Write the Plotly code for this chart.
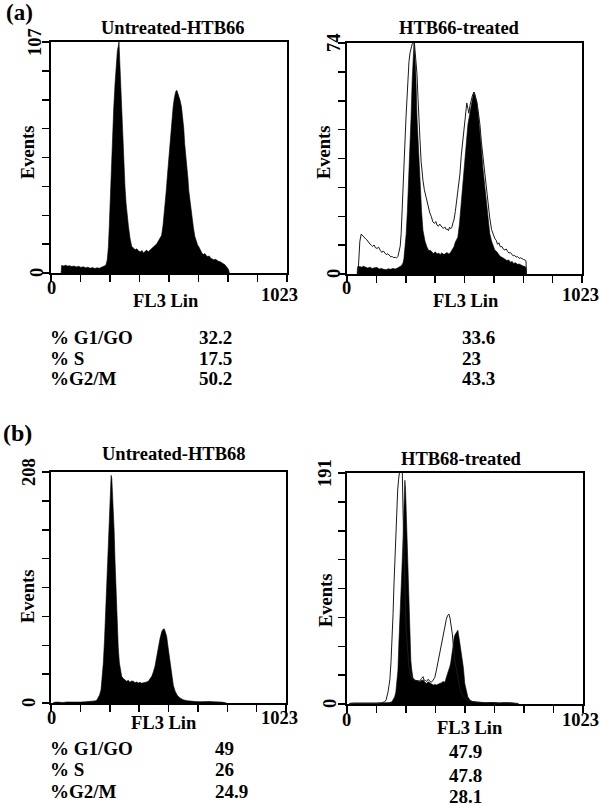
import plotly.graph_objects as go

# ---------------- data ----------------
PANEL_TITLES = ["Untreated-HTB66", "HTB66-treated", "Untreated-HTB68", "HTB68-treated"]
Y_MAX = [107, 74, 208, 191]
X_LABELS = ["0", "1023"]
X_TITLE = "FL3 Lin"
Y_TITLE = "Events"
ROW_LABELS = ["% G1/GO", "% S", "%G2/M"]
VALUES_A_UNT = ["32.2", "17.5", "50.2"]
VALUES_A_TRT = ["33.6", "23", "43.3"]
VALUES_B_UNT = ["49", "26", "24.9"]
VALUES_B_TRT = ["47.9", "47.8", "28.1"]

# (a) untreated HTB66 – filled histogram (channel, events)
A_UNT_CH = [44, 46, 55, 64, 72, 80, 90, 100, 110, 120, 130, 140, 150, 160, 170, 180, 190, 200, 210, 220, 230, 238,
            244, 249, 253, 256, 261, 266, 272, 278, 283, 288, 292, 295, 298, 302, 306, 311, 316, 321, 326, 331, 336,
            343, 350, 358, 365, 372, 380, 388, 395, 401, 408, 415, 422, 430, 437, 445, 452, 459, 466, 473, 480, 486,
            491, 495, 500, 505, 509, 514, 519, 524, 530, 535, 541, 546, 550, 555, 560, 566, 571, 576, 580, 585, 589,
            594, 598, 603, 608, 613, 618, 624, 630, 636, 642, 648, 655, 661, 668, 674, 680, 687, 693, 700, 706, 713,
            720, 727, 734, 741, 748, 755, 762, 768, 772, 774]
A_UNT_EV = [0, 3.5, 3.3, 3.6, 3.2, 3.4, 3.0, 3.2, 2.8, 3.1, 2.6, 2.9, 2.4, 2.7, 2.2, 2.5, 2.1, 2.4, 2.2, 2.8, 3.0, 3.6,
            6, 12, 22, 31, 46, 62, 76, 88, 96, 103, 105, 107, 99, 88, 75, 60, 49, 40, 32, 26, 21.6,
            16, 12.4, 11.5, 10.8, 11.2, 10.2, 9.8, 10.4, 9.3, 9.9, 10.6, 9.8, 10.5, 11.4, 12.2, 12.8, 13.5, 14.8, 16.2,
            17.5, 22, 27, 31, 38, 45, 50, 59, 66, 71, 77, 81, 84, 84.6, 83.5, 82, 80, 77, 72.5, 67, 60, 55, 50,
            44, 38, 33, 28, 24, 21, 17, 14.5, 13, 12, 10.5, 9.2, 8.6, 9.0, 8.0, 7.6, 7.9, 6.8, 6.5, 6.1, 6.4,
            5.8, 5.4, 5.2, 4.9, 4.3, 3.8, 3.0, 2.0, 1.0, 0]

# (a) HTB66 treated – filled histogram
A_TRT_CH = [44, 46, 55, 64, 72, 80, 90, 100, 110, 120, 131, 140, 150, 160, 170, 180, 190, 200, 210, 220, 230, 238,
            244, 248, 253, 258, 263, 268, 274, 279, 284, 288, 292, 296, 300, 305, 311, 318, 325, 331, 340, 348, 356,
            363, 370, 377, 385, 392, 400, 406, 413, 420, 427, 435, 442, 448, 455, 460, 466, 472, 478, 483, 490, 495,
            500, 506, 513, 520, 527, 535, 544, 549, 553, 558, 566, 572, 579, 586, 592, 600, 610, 616, 622, 630, 637,
            644, 652, 660, 668, 675, 683, 690, 697, 705, 712, 720, 726, 735, 742, 750, 756, 763, 770, 776, 780, 782]
A_TRT_EV = [0, 2.3, 2.4, 2.2, 2.5, 2.3, 1.9, 2.2, 1.8, 2.0, 2.1, 1.6, 1.8, 1.5, 1.4, 1.7, 1.5, 1.8, 1.6, 1.9, 2.2, 2.7,
            3.5, 5, 9, 13, 20, 28, 40, 50, 62, 68, 74, 70, 64, 50, 40, 30, 20, 14, 10.5, 8.7, 7.5,
            7.6, 7.0, 6.6, 7.1, 6.4, 6.7, 6.2, 6.8, 6.3, 6.4, 6.9, 6.5, 6.6, 7.4, 8.0, 8.7, 10.2, 11, 11.8, 16, 20,
            23.7, 30, 36.5, 42, 48, 52, 55, 57, 58.3, 57.5, 55, 51, 46, 40, 34, 28, 21.5, 17, 13, 10.5, 9.0,
            7.7, 7.2, 6.3, 5.6, 5.4, 5.0, 4.7, 4.3, 4.5, 3.8, 4.0, 3.4, 3.6, 3.1, 3.2, 2.9, 2.7, 2.5, 2.4, 2.0, 0]

# (a) HTB66 treated – outline histogram
A_OUT_CH = [48, 51, 56, 62, 68, 75, 82, 87, 94, 100, 106, 112, 118, 124, 131, 138, 145, 152, 158, 165, 171, 178, 185,
            191, 197, 204, 210, 216, 222, 228, 232, 236, 239, 243, 247, 252, 257, 262, 266, 270, 275, 280, 284, 288,
            292, 296, 300, 305, 309, 313, 318, 323, 327, 331, 337, 343, 348, 355, 361, 367, 374, 381, 387, 392, 398,
            404, 410, 414, 420, 426, 432, 437, 442, 447, 452, 457, 462, 466, 472, 479, 486, 492, 498, 505, 512, 518,
            522, 527, 531, 536, 540, 546, 553, 560, 566, 572, 579, 586, 593, 601, 608, 615, 622, 630, 637, 644, 650,
            656, 662, 668, 675, 682, 688, 694, 700, 706, 712, 718, 724, 730, 737, 743, 750, 756, 763, 770, 776, 780, 782]
A_OUT_EV = [0, 6, 10.5, 12.8, 12.2, 11.8, 11.2, 10.9, 10.0, 9.6, 9.2, 8.8, 9.3, 8.4, 8.2, 8.6, 7.6, 6.9, 7.4, 6.5, 6.2,
            6.5, 5.8, 5.5, 5.6, 5.2, 5.4, 5.1, 5.6, 7.5, 9, 13, 19, 25, 32, 42, 50, 57, 64, 68, 71, 72.5, 74, 76,
            76, 72, 69, 64, 57, 49, 43, 36, 32, 30, 27, 25, 23.7, 21.5, 19.5, 18.5, 16.7, 16.2, 16.8, 15.7, 15.3,
            16.0, 15.2, 15, 14.6, 15.1, 14.3, 14.4, 13.9, 15.0, 14.5, 15, 16.5, 17.3, 20, 23.7, 28, 32, 38, 43, 49, 53,
            54.8, 53, 51.5, 54, 55.7, 57, 58.3, 56.5, 55, 52, 48, 42, 37, 32, 26, 22, 18, 14.2, 12.5, 11.4, 10.8,
            9.5, 10.0, 8.7, 8.8, 7.9, 7.7, 8.0, 7.2, 6.7, 6.9, 6.3, 5.8, 6.0, 5.4, 5.6, 5.0, 5.2, 4.8, 4.6, 4.5, 4.2, 0]

# (b) untreated HTB68 – filled histogram
B_UNT_CH = [10, 12, 30, 50, 70, 90, 110, 130, 150, 165, 180, 192, 200, 206, 212, 218, 223, 228, 233, 237, 242, 246,
            250, 254, 258, 262, 265, 267, 271, 275, 279, 282, 286, 289, 293, 298, 303, 308, 315, 323, 330, 337, 344,
            351, 359, 366, 373, 381, 388, 395, 403, 410, 417, 424, 431, 439, 446, 453, 460, 468, 475, 483, 489, 494,
            499, 504, 509, 515, 520, 526, 533, 541, 550, 562, 575, 592, 610, 630, 650, 665, 679, 692, 707, 722, 737,
            751, 760, 765]
B_UNT_EV = [0, 0.6, 0.8, 0.5, 0.9, 0.7, 1.0, 0.8, 1.1, 1.3, 1.5, 1.9, 2.6, 4.5, 7.5, 12, 22, 36, 56, 78, 100, 123,
            146, 168, 188, 205, 202, 195, 176, 156, 128, 108, 86, 66, 50, 36, 29, 24, 22, 21, 19.5, 20.5, 18.6,
            19.8, 19.5, 18.2, 19.0, 18, 18.6, 17.8, 18, 18.8, 19.0, 19.5, 21.5, 24, 28, 33, 41, 51, 58, 64.6, 66.5, 66.7,
            62, 60, 52, 42, 33, 24, 16, 10.5, 7, 4.5, 3, 2.1, 1.6, 1.3, 1.2, 1.5, 1.5, 1.4, 1.1, 1.2, 0.9,
            0.6, 0.3, 0]

# (b) HTB68 treated – filled histogram
B_TRT_CH = [10, 12, 30, 50, 70, 90, 110, 130, 150, 170, 185, 195, 200, 207, 212, 217, 221, 225, 230, 234, 238, 241,
            244, 247, 251, 254, 257, 260, 263, 266, 270, 274, 277, 281, 286, 292, 299, 306, 316, 323, 330, 337, 345,
            352, 359, 366, 374, 381, 388, 395, 403, 410, 417, 425, 432, 439, 446, 450, 455, 460, 466, 471, 476, 481,
            486, 490, 495, 500, 505, 511, 517, 524, 533, 546, 560, 575, 591, 610, 630, 650, 664, 680, 695, 707, 722,
            736, 745]
B_TRT_EV = [0, 0.5, 0.7, 0.6, 0.8, 0.6, 0.9, 0.7, 0.9, 1.0, 1.2, 1.8, 3.3, 6, 10, 20, 28, 50, 70, 83, 110, 125,
            150, 166, 185, 178, 160, 140, 111, 90, 69, 48, 36, 28, 22, 20, 19.5, 18.8, 18.5, 19.4, 19.8, 18.2, 17,
            18.3, 17.6, 16.6, 15.7, 16.2, 15.7, 16.4, 16.8, 17.5, 18.6, 18, 22.6, 26, 30.9, 34, 42, 50, 56, 58, 60, 61,
            55, 50, 44, 39, 30, 17, 11, 6, 3.3, 2, 1.6, 1.3, 1.4, 1.0, 1.2, 0.9, 0.8, 1.1, 1.3, 1.1, 0.8,
            0.5, 0]

# (b) HTB68 treated – outline histogram
B_OUT_CH = [10, 12, 30, 50, 70, 90, 110, 130, 150, 164, 170, 174, 178, 182, 186, 191, 196, 200, 204, 208, 213, 217,
            220, 224, 227, 232, 236, 240, 243, 246, 250, 254, 258, 263, 268, 274, 281, 288, 296, 303, 310, 316, 323,
            330, 334, 340, 345, 352, 359, 366, 374, 381, 388, 395, 403, 410, 417, 425, 431, 436, 442, 447, 449, 453,
            457, 461, 464, 468, 475, 482, 490, 497, 505, 515, 525, 540, 560, 580, 600, 620, 640, 660, 680, 700, 720,
            740, 745]
B_OUT_EV = [0, 0.5, 0.7, 0.6, 0.8, 0.6, 0.9, 0.7, 1.0, 1.9, 3.5, 6, 10, 15, 20, 35, 53, 75, 100, 122, 144, 163,
            177, 186, 196, 198, 195, 192, 160, 130, 100, 75, 58, 42, 32, 25, 22, 20, 19.5, 19.2, 19.0, 19.0, 21,
            22.6, 19.8, 19.5, 18.5, 20.5, 18.8, 18, 19.8, 22, 28, 35, 44, 52, 59, 66, 70, 73, 74.4, 71, 69, 63,
            58, 49, 42, 36, 28, 20, 13, 9, 6, 4, 2.8, 2, 1.5, 1.2, 1.0, 1.2, 0.9, 0.8, 1.0, 1.1, 0.7,
            0.5, 0]

# ---------------- layout helpers ----------------
W, H = 600, 806
FONT = "Liberation Serif"


def px(x):
    return x / W


def py(y):
    return 1 - y / H


fig = go.Figure()

# axis rectangles in pixels: (left, right, top, bottom)
boxes = [(51, 287, 42, 273), (347, 582, 43, 274), (51, 286, 472, 703), (347, 583, 473, 704)]

for i, (l, r, t, b) in enumerate(boxes):
    n = "" if i == 0 else str(i + 1)
    ymax = Y_MAX[i]
    fig.update_layout({
        f"xaxis{n}": dict(domain=[px(l), px(r)], range=[0, 1024], anchor=f"y{n}",
                          tickvals=[128 * k for k in range(9)], ticks="outside", ticklen=7,
                          tickwidth=1.5, tickcolor="black", showticklabels=False,
                          showgrid=False, zeroline=False, showline=True, mirror=True,
                          linecolor="black", linewidth=1.6, fixedrange=True),
        f"yaxis{n}": dict(domain=[py(b), py(t)], range=[0, ymax], anchor=f"x{n}",
                          tickvals=[ymax * k / 8 for k in range(9)], ticks="outside", ticklen=7,
                          tickwidth=1.5, tickcolor="black", showticklabels=False,
                          showgrid=False, zeroline=False, showline=True, mirror=True,
                          linecolor="black", linewidth=1.6, fixedrange=True),
    })

filled = [(A_UNT_CH, A_UNT_EV), (A_TRT_CH, A_TRT_EV), (B_UNT_CH, B_UNT_EV), (B_TRT_CH, B_TRT_EV)]
outlines = {1: (A_OUT_CH, A_OUT_EV), 3: (B_OUT_CH, B_OUT_EV)}

for i, (xs, ys) in enumerate(filled):
    n = "" if i == 0 else str(i + 1)
    fig.add_trace(go.Scatter(x=xs, y=ys, mode="lines", fill="tozeroy", fillcolor="black",
                             line=dict(color="black", width=0.6), xaxis=f"x{n}", yaxis=f"y{n}",
                             showlegend=False, hoverinfo="skip"))
    if i in outlines:
        ox, oy = outlines[i]
        fig.add_trace(go.Scatter(x=ox, y=oy, mode="lines", line=dict(color="#1a1a1a", width=1),
                                 xaxis=f"x{n}", yaxis=f"y{n}", showlegend=False, hoverinfo="skip"))

anns = []


def ann(text, x, y, size=18.5, angle=0, xanchor="center", yanchor="middle"):
    anns.append(dict(text=text, x=px(x), y=py(y), xref="paper", yref="paper", showarrow=False,
                     textangle=angle, xanchor=xanchor, yanchor=yanchor,
                     font=dict(family=FONT, size=size, color="black", weight="bold")))


# panel letters
ann("(a)", 19, 12, size=23)
ann("(b)", 17, 433, size=24)

# titles
title_pos = [(173, 28), (459, 28), (174, 454), (461, 459)]
for t, (x, y) in zip(PANEL_TITLES, title_pos):
    ann(t, x, y)

# y tick labels and titles
ylab = [(37, 35, 28), (334, 334, 324), (29, 29, 28), (330, 325, 326)]
ev_y = [153, 153, 597, 601]
for i, (l, r, t, b) in enumerate(boxes):
    x0, xm, xe = ylab[i]
    ann("0", x0, b, angle=-90)
    ann(str(Y_MAX[i]), xm, t, angle=-90)
    ann(Y_TITLE, xe, ev_y[i], angle=-90)

# x labels
xl = [((51, 288), (166, 301), (279, 295)),
      ((346, 288), (466, 301), (580, 295)),
      ((51, 718), (164, 723), (279, 718)),
      ((346, 720), (470, 728), (580, 720))]
for (p0, pt, p1) in xl:
    ann(X_LABELS[0], *p0)
    ann(X_TITLE, *pt)
    ann(X_LABELS[1], *p1)

# tables
rows_a = [337, 358, 379]
rows_b = [748, 769, 791]
rows_b2 = [751, 775, 796]
for k in range(3):
    ann(ROW_LABELS[k], 48, rows_a[k], size=19, xanchor="left")
    ann(VALUES_A_UNT[k], 197, rows_a[k], size=19, xanchor="left")
    ann(VALUES_A_TRT[k], 460, rows_a[k], size=19, xanchor="left")
    ann(ROW_LABELS[k], 48, rows_b[k], size=19, xanchor="left")
    ann(VALUES_B_UNT[k], 213, rows_b[k], size=19, xanchor="left")
    ann(VALUES_B_TRT[k], 447, rows_b2[k], size=19, xanchor="left")

fig.update_layout(width=W, height=H, margin=dict(l=0, r=0, t=0, b=0),
                  paper_bgcolor="white", plot_bgcolor="white", annotations=anns,
                  font=dict(family=FONT))

fig.write_html("out.html", config={"displayModeBar": False, "staticPlot": True},
               post_script="document.body.style.margin='0px';")
